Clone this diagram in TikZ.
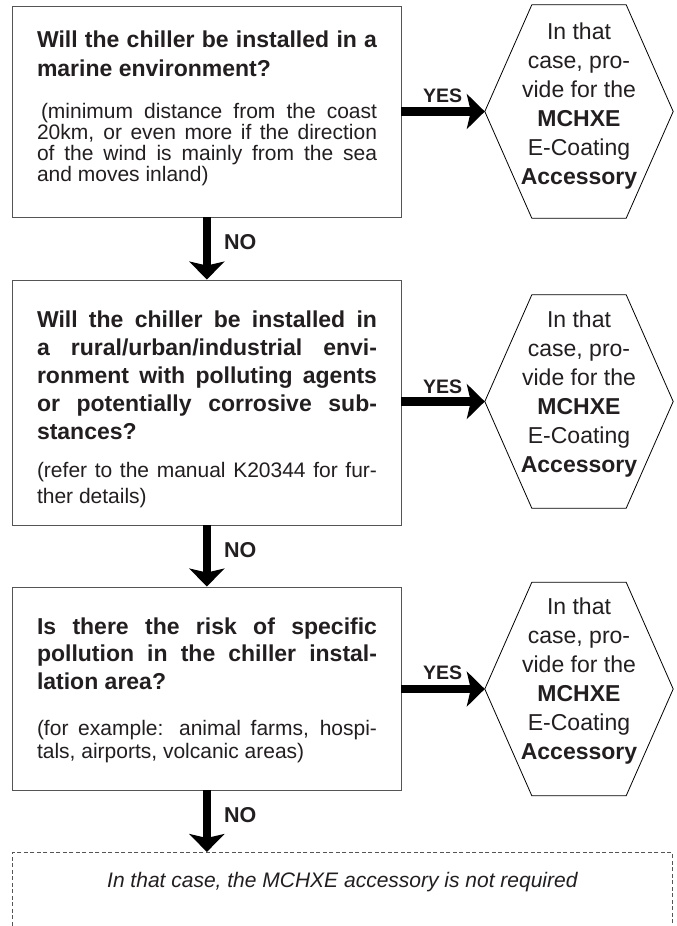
\documentclass[tikz,border=0pt]{standalone}
\usepackage{fontspec}
\setmainfont{Liberation Sans}
\usetikzlibrary{arrows.meta}
\definecolor{ink}{HTML}{231F20}
\definecolor{edgegray}{HTML}{555555}
\newcommand{\jl}[1]{\makebox[340pt][s]{\spaceskip=0pt\xspaceskip=0pt #1}\par}
\newcommand{\natsp}{\spaceskip=0pt\xspaceskip=0pt\parindent=0pt\parskip=0pt\lineskiplimit=-100pt\relax}
\begin{document}
\begin{tikzpicture}[x=1pt,y=-1pt,
  qbox/.style={draw=edgegray, line width=0.9pt, rectangle, inner sep=0pt, minimum width=388.3pt},
  qtext/.style={text width=340pt, align=left, inner sep=0pt, text=ink},
  hexframe/.style={rectangle, inner sep=0pt, minimum width=188pt, minimum height=213pt},
  hexline/.style={draw=black, line width=0.8pt},
  hextext/.style={align=center, inner sep=0pt, text=ink, font=\fontsize{23}{29}\selectfont},
  bigarrow/.style={draw=black, line width=8.5pt, -{Stealth[length=18pt,width=35pt,inset=4pt]}},
  yeslabel/.style={font=\fontsize{19.5}{20}\selectfont\bfseries, text=ink, inner sep=0pt, anchor=base west},
  nolabel/.style={font=\fontsize{21.5}{22}\selectfont\bfseries, text=ink, inner sep=0pt, anchor=base west}
]
\useasboundingbox (0,0) rectangle (677,926);
\fill[white] (0,0) rectangle (677,926);
\clip (0,0) rectangle (677,926);

% question boxes
\node[qbox, minimum height=211pt] (b1) at (206.85,111.5) {};
\node[qbox, minimum height=245pt] (b2) at (206.85,402.5) {};
\node[qbox, minimum height=203pt] (b3) at (206.85,688.5) {};

\node[qtext] (t1) at (207,108.8) {\natsp\fontsize{23}{29}\selectfont\bfseries
\jl{Will the chiller be installed in a}
marine environment?\par
\vspace{21pt}
\fontsize{21}{21}\selectfont\mdseries
\jl{\hspace{4pt}(minimum distance from the coast}
\jl{20km, or even more if the direction}
\jl{of the wind is mainly from the sea}
and moves inland)\par};

\node[qtext] (t2) at (207,409.6) {\natsp\fontsize{23}{27.9}\selectfont\bfseries
\jl{Will the chiller be installed in}
\jl{a rural/urban/industrial envi-}
\jl{ronment with polluting agents}
\jl{or potentially corrosive sub-}
stances?\par
\vspace{11.1pt}
\fontsize{21}{26.7}\selectfont\mdseries
\jl{(refer to the manual K20344 for fur-}
ther details)\par};

\node[qtext] (t3) at (207,690.3) {\natsp\fontsize{23}{27.5}\selectfont\bfseries
\jl{Is there the risk of specific}
\jl{pollution in the chiller instal-}
lation area?\par
\vspace{22.8pt}
\fontsize{21}{23.3}\selectfont\mdseries
\jl{(for example: animal farms, hospi-}
tals, airports, volcanic areas)\par};

% hexagons
\node[hexframe] (h1) at (579,111.5) {};
\node[hexframe] (h2) at (579,401.5) {};
\node[hexframe] (h3) at (579,689) {};
\foreach \h in {h1,h2,h3}{
  \draw[hexline] (\h.west) -- ([xshift=47pt]\h.north west) -- ([xshift=-47pt]\h.north east)
    -- (\h.east) -- ([xshift=-47pt]\h.south east) -- ([xshift=47pt]\h.south west) -- cycle;
}
\node[hextext] (h1t) at (579,106.5) {In that\\case, pro-\\vide for the\\\textbf{MCHXE}\\E-Coating\\\textbf{Accessory}};
\node[hextext] (h2t) at (579,394.5) {In that\\case, pro-\\vide for the\\\textbf{MCHXE}\\E-Coating\\\textbf{Accessory}};
\node[hextext] (h3t) at (579,681.5) {In that\\case, pro-\\vide for the\\\textbf{MCHXE}\\E-Coating\\\textbf{Accessory}};

% final dashed box
\node[draw=edgegray, dash pattern=on 4pt off 2.5pt, line width=0.8pt, rectangle, inner sep=0pt,
      minimum width=659.3pt, minimum height=120pt, anchor=north] (nr) at (342.35,852) {};
\node[font=\fontsize{21}{24}\selectfont\itshape, text=ink, anchor=base, inner sep=0pt] (nrt) at (342.35,887)
  {In that case, the MCHXE accessory is not required};

% arrows
\draw[bigarrow] (b1.east |- h1.west) -- (h1.west);
\draw[bigarrow] (b2.east |- h2.west) -- (h2.west);
\draw[bigarrow] (b3.east |- h3.west) -- (h3.west);
\draw[bigarrow] (b1.south) -- (b2.north);
\draw[bigarrow] (b2.south) -- (b3.north);
\draw[bigarrow] (b3.south) -- (b3.south |- nr.north);

% labels
\node[yeslabel] (y1) at (423,102) {YES};
\node[yeslabel] (y2) at (423,393) {YES};
\node[yeslabel] (y3) at (423,679) {YES};
\node[nolabel] (n1) at (224,249.3) {NO};
\node[nolabel] (n2) at (224,557) {NO};
\node[nolabel] (n3) at (224,822) {NO};
\end{tikzpicture}
\end{document}
